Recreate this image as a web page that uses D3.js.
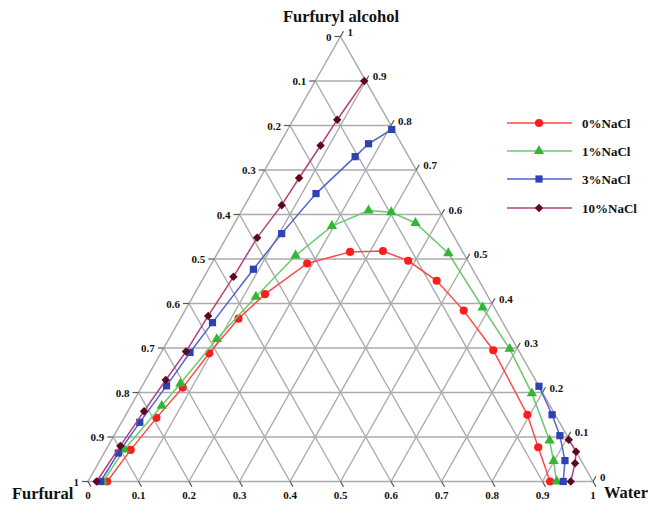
<!DOCTYPE html>
<html>
<head>
<meta charset="utf-8">
<script src="https://cdn.jsdelivr.net/npm/d3@7"></script>
<style>
  body { margin: 0; background: #fff; }
  text { font-family: "Liberation Serif", "Times New Roman", serif; font-weight: bold; fill: #111; }
</style>
</head>
<body>
<svg width="648" height="505"></svg>
<script>
// water (W) and furfuryl alcohol (A) mass fractions, furfural = 1 - W - A
let seriesNames = ["0%NaCl", "1%NaCl", "3%NaCl", "10%NaCl"];

let water0 = [0.038, 0.049, 0.064, 0.082, 0.096, 0.115, 0.140, 0.189, 0.261, 0.325, 0.386, 0.465, 0.552, 0.655, 0.795, 0.853, 0.915];
let alcohol0 = [0, 0.071, 0.143, 0.211, 0.288, 0.366, 0.421, 0.490, 0.516, 0.518, 0.496, 0.451, 0.384, 0.295, 0.150, 0.077, 0];

let water1 = [0.030, 0.036, 0.061, 0.073, 0.095, 0.125, 0.157, 0.196, 0.251, 0.298, 0.358, 0.457, 0.586, 0.686, 0.780, 0.868, 0.899, 0.928];
let alcohol1 = [0, 0.072, 0.170, 0.220, 0.320, 0.415, 0.508, 0.574, 0.609, 0.605, 0.581, 0.513, 0.391, 0.298, 0.198, 0.092, 0.046, 0];

let water3Left = [0.025, 0.028, 0.036, 0.048, 0.057, 0.068, 0.089, 0.105, 0.128, 0.164, 0.176, 0.206];
let alcohol3Left = [0, 0.064, 0.133, 0.215, 0.290, 0.357, 0.477, 0.557, 0.647, 0.730, 0.759, 0.791];
let water3Right = [0.786, 0.844, 0.883, 0.921, 0.941];
let alcohol3Right = [0.214, 0.150, 0.103, 0.047, 0];

let water10Left = [0.017, 0.024, 0.032, 0.040, 0.048, 0.052, 0.058, 0.061, 0.073, 0.077, 0.083, 0.087, 0.097];
let alcohol10Left = [0, 0.080, 0.158, 0.228, 0.292, 0.372, 0.460, 0.548, 0.621, 0.682, 0.755, 0.813, 0.900];
let water10Right = [0.905, 0.933, 0.944, 0.956];
let alcohol10Right = [0.094, 0.067, 0.041, 0];

let tickValues = [0, 0.1, 0.2, 0.3, 0.4, 0.5, 0.6, 0.7, 0.8, 0.9, 1];

let svg = d3.select("svg");

let xScale = d3.scaleLinear().domain([0, 1]).range([88, 593]);
let yScale = d3.scaleLinear().domain([0, 1]).range([481.5, 36.5]);

// ternary -> screen
let px = (w, a) => xScale(w + a / 2);
let py = (w, a) => yScale(a);

let zip = (ws, as) => ws.map((w, i) => [w, as[i]]);

let gridColor = "#ababab";

// grid lines
let grid = svg.append("g").attr("stroke", gridColor).attr("stroke-width", 1.4).attr("fill", "none");
let gridSegs = [];
tickValues.slice(1, 10).forEach(v => {
  gridSegs.push([[0, v], [1 - v, v]]);       // constant alcohol
  gridSegs.push([[v, 0], [v, 1 - v]]);       // constant water
  gridSegs.push([[1 - v, 0], [0, 1 - v]]);   // constant furfural
});
grid.selectAll("line")
  .data(gridSegs)
  .enter()
  .append("line")
  .attr("x1", d => px(d[0][0], d[0][1]))
  .attr("y1", d => py(d[0][0], d[0][1]))
  .attr("x2", d => px(d[1][0], d[1][1]))
  .attr("y2", d => py(d[1][0], d[1][1]));

// frame
svg.append("path")
  .attr("d", "M" + px(0, 0) + "," + py(0, 0) + "L" + px(1, 0) + "," + py(1, 0) + "L" + px(0, 1) + "," + py(0, 1) + "Z")
  .attr("fill", "none")
  .attr("stroke", gridColor)
  .attr("stroke-width", 1.5);

// ticks and labels
let tickLen = 6;
let ticks = svg.append("g").attr("stroke", "#555").attr("stroke-width", 1.2);
let labels = svg.append("g").attr("font-size", 11);
let fmt = v => (v === 0 || v === 1) ? String(v) : v.toFixed(1);

tickValues.forEach(v => {
  // left axis: furfural, left edge point has W = 0, A = 1 - v
  let lx = px(0, 1 - v), ly = py(0, 1 - v);
  ticks.append("line").attr("x1", lx).attr("y1", ly).attr("x2", lx - tickLen).attr("y2", ly);
  labels.append("text").attr("x", lx - 9).attr("y", ly + 4).attr("text-anchor", "end").text(fmt(v));

  // right axis: furfuryl alcohol, right edge point W = 1 - v, A = v
  let rx = px(1 - v, v), ry = py(1 - v, v);
  ticks.append("line").attr("x1", rx).attr("y1", ry).attr("x2", rx + tickLen * 0.5).attr("y2", ry - tickLen * 0.866);
  labels.append("text").attr("x", rx + 7).attr("y", ry - 1).attr("text-anchor", "start").text(fmt(v));

  // bottom axis: water
  let bx = px(v, 0), by = py(v, 0);
  ticks.append("line").attr("x1", bx).attr("y1", by).attr("x2", bx + tickLen * 0.5).attr("y2", by + tickLen * 0.866);
  labels.append("text").attr("x", bx).attr("y", by + 17).attr("text-anchor", "middle").text(fmt(v));
});

// vertex titles
svg.append("text").attr("x", 341).attr("y", 22).attr("text-anchor", "middle").attr("font-size", 16.5).text("Furfuryl alcohol");
svg.append("text").attr("x", 12).attr("y", 499).attr("font-size", 16.5).text("Furfural");
svg.append("text").attr("x", 604).attr("y", 498).attr("font-size", 16.5).text("Water");

// series styles
let styles = [
  { line: "#ff4a4a", mark: "#ff1c1c", sym: d3.symbolCircle, size: 52, rot: 0 },
  { line: "#6acb6a", mark: "#35b535", sym: d3.symbolTriangle, size: 46, rot: 0 },
  { line: "#5563c9", mark: "#2d43b4", sym: d3.symbolSquare, size: 52, rot: 0 },
  { line: "#b2407e", mark: "#5a0a1c", sym: d3.symbolSquare, size: 36, rot: 45 }
];

let seriesData = [
  [zip(water0, alcohol0)],
  [zip(water1, alcohol1)],
  [zip(water3Left, alcohol3Left), zip(water3Right, alcohol3Right)],
  [zip(water10Left, alcohol10Left), zip(water10Right, alcohol10Right)]
];

let lineGen = d3.line().x(d => px(d[0], d[1])).y(d => py(d[0], d[1]));

seriesData.forEach((branches, i) => {
  let st = styles[i];
  let g = svg.append("g");
  branches.forEach(pts => {
    g.append("path")
      .attr("d", lineGen(pts))
      .attr("fill", "none")
      .attr("stroke", st.line)
      .attr("stroke-width", 1.5);
  });
  let sym = d3.symbol().type(st.sym).size(st.size);
  g.selectAll("path.mark")
    .data(branches.flat())
    .enter()
    .append("path")
    .attr("class", "mark")
    .attr("d", sym)
    .attr("fill", st.mark)
    .attr("transform", d => "translate(" + px(d[0], d[1]) + "," + py(d[0], d[1]) + ") rotate(" + st.rot + ")");
});

// legend
let legendY = [123, 151, 179, 208];
let legend = svg.append("g");
seriesNames.forEach((name, i) => {
  let st = styles[i];
  let y = legendY[i];
  legend.append("line").attr("x1", 507).attr("x2", 572).attr("y1", y).attr("y2", y)
    .attr("stroke", st.line).attr("stroke-width", 1.5);
  legend.append("path")
    .attr("d", d3.symbol().type(st.sym).size(st.size)())
    .attr("fill", st.mark)
    .attr("transform", "translate(539," + y + ") rotate(" + st.rot + ")");
  legend.append("text").attr("x", 582).attr("y", y + 4.5).attr("font-size", 13).text(name);
});
</script>
</body>
</html>
